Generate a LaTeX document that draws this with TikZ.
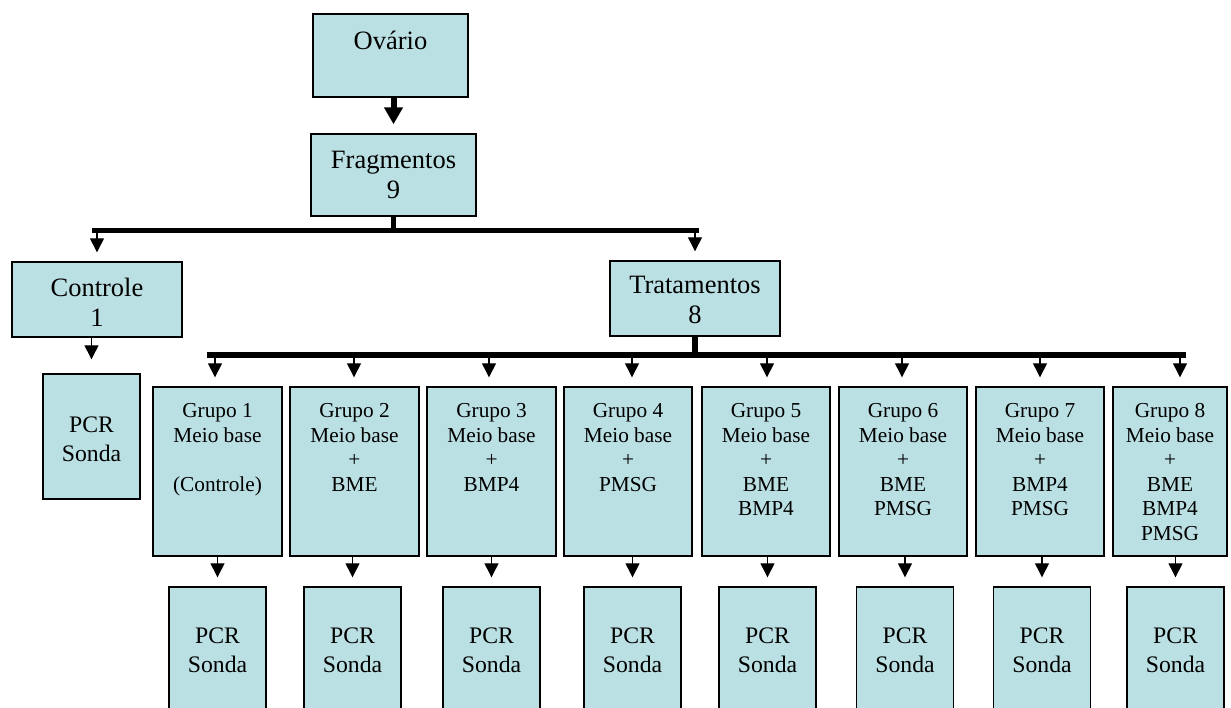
\documentclass[tikz,border=0pt]{standalone}
\usepackage{fontspec}
\setmainfont{Liberation Serif}
\usetikzlibrary{arrows.meta}

\definecolor{azulcaixa}{RGB}{187,224,227}

\tikzset{
  caixa/.style={draw, line width=1.4pt, fill=azulcaixa, inner sep=0pt},
  textogrande/.style={align=center, anchor=north, inner sep=0pt, font=\fontsize{26.5}{30}\selectfont},
  textopcr/.style={align=center, anchor=north, inner sep=0pt, font=\fontsize{23.7}{29}\selectfont},
  textogrupo/.style={align=center, anchor=north, inner sep=0pt, font=\fontsize{21.3}{24.5}\selectfont},
  seta/.style={line width=1.3pt, -{Triangle[length=14pt,width=14pt]}, shorten >=9pt},
  setagrossa/.style={line width=6pt, -{Triangle[length=17pt,width=18pt]}, shorten >=9pt},
  barra/.style={line width=5.5pt}
}

\begin{document}
\begin{tikzpicture}[x=1pt,y=-1pt]
  \clip (0,0) rectangle (1231,707);

  % Topo
  \node[caixa, minimum width=155pt, minimum height=83pt] (ovario) at (390.5,55.5) {};
  \node[textogrande] (tovario) at (390.5,30.7) {Ovário};
  \node[caixa, minimum width=165pt, minimum height=82pt] (fragmentos) at (393.5,175) {};
  \node[textogrande] (tfragmentos) at (393.5,150.7) {Fragmentos\\9};

  % Controle e tratamentos
  \node[caixa, minimum width=170pt, minimum height=75pt] (controle) at (97,299.5) {};
  \node[textogrande] (tcontrole) at (97,277.7) {Controle\\1};
  \node[caixa, minimum width=170pt, minimum height=75pt] (tratamentos) at (695,298.5) {};
  \node[textogrande] (ttratamentos) at (695,275.7) {Tratamentos\\8};
  \node[caixa, minimum width=97pt, minimum height=125pt] (pcr0) at (91.5,436.5) {};
  \node[textopcr] (tpcr0) at (91.5,416.7) {PCR\\Sonda};

  % Grupos
  \node[caixa, minimum width=129pt, minimum height=169pt] (g1) at (217.5,471.5) {};
  \node[textogrupo] (tg1) at (217.5,403.5) {Grupo 1\\Meio base\\\mbox{}\\(Controle)};
  \node[caixa, minimum width=129pt, minimum height=169pt] (g2) at (354.5,471.5) {};
  \node[textogrupo] (tg2) at (354.5,403.5) {Grupo 2\\Meio base\\+\\BME};
  \node[caixa, minimum width=129pt, minimum height=169pt] (g3) at (491.5,471.5) {};
  \node[textogrupo] (tg3) at (491.5,403.5) {Grupo 3\\Meio base\\+\\BMP4};
  \node[caixa, minimum width=128pt, minimum height=169pt] (g4) at (628,471.5) {};
  \node[textogrupo] (tg4) at (628,403.5) {Grupo 4\\Meio base\\+\\PMSG};
  \node[caixa, minimum width=128pt, minimum height=169pt] (g5) at (766,471.5) {};
  \node[textogrupo] (tg5) at (766,403.5) {Grupo 5\\Meio base\\+\\BME\\BMP4};
  \node[caixa, minimum width=128pt, minimum height=169pt] (g6) at (903,471.5) {};
  \node[textogrupo] (tg6) at (903,403.5) {Grupo 6\\Meio base\\+\\BME\\PMSG};
  \node[caixa, minimum width=128pt, minimum height=169pt] (g7) at (1040,471.5) {};
  \node[textogrupo] (tg7) at (1040,403.5) {Grupo 7\\Meio base\\+\\BMP4\\PMSG};
  \node[caixa, minimum width=114pt, minimum height=169pt] (g8) at (1170,471.5) {};
  \node[textogrupo] (tg8) at (1170,403.5) {Grupo 8\\Meio base\\+\\BME\\BMP4\\PMSG};

  % PCR
  \node[caixa, minimum width=97pt, minimum height=140pt] (p1) at (217.5,657) {};
  \node[textopcr] (tp1) at (217.5,627.7) {PCR\\Sonda};
  \node[caixa, minimum width=97pt, minimum height=140pt] (p2) at (352.5,657) {};
  \node[textopcr] (tp2) at (352.5,627.7) {PCR\\Sonda};
  \node[caixa, minimum width=97pt, minimum height=140pt] (p3) at (491.5,657) {};
  \node[textopcr] (tp3) at (491.5,627.7) {PCR\\Sonda};
  \node[caixa, minimum width=97pt, minimum height=140pt] (p4) at (632.5,657) {};
  \node[textopcr] (tp4) at (632.5,627.7) {PCR\\Sonda};
  \node[caixa, minimum width=97pt, minimum height=140pt] (p5) at (767.5,657) {};
  \node[textopcr] (tp5) at (767.5,627.7) {PCR\\Sonda};
  \node[caixa, minimum width=97pt, minimum height=140pt] (p6) at (905,657) {};
  \node[textopcr] (tp6) at (905,627.7) {PCR\\Sonda};
  \node[caixa, minimum width=97pt, minimum height=140pt] (p7) at (1042,657) {};
  \node[textopcr] (tp7) at (1042,627.7) {PCR\\Sonda};
  \node[caixa, minimum width=97pt, minimum height=140pt] (p8) at (1175.5,657) {};
  \node[textopcr] (tp8) at (1175.5,627.7) {PCR\\Sonda};

  % Barras
  \coordinate (b1l) at (92,230.5);
  \coordinate (b1r) at (699,230.5);
  \coordinate (b2l) at (207,355);
  \coordinate (b2r) at (1186,355);
  \draw[setagrossa] (fragmentos.north |- ovario.south) -- (fragmentos.north);
  \draw[barra] (fragmentos.south) -- (fragmentos.south |- b1l);
  \draw[barra] (b1l) -- (b1r);
  \draw[barra] (tratamentos.south) -- (tratamentos.south |- b2l);
  \draw[barra] (b2l) -- (b2r);

  % Setas
  \coordinate (sc) at (97,230.5);
  \coordinate (st) at (695,230.5);
  \draw[seta] (sc) -- (sc |- controle.north);
  \draw[seta] (st) -- (st |- tratamentos.north);
  \draw[seta, shorten >=14pt] (pcr0.north |- controle.south) -- (pcr0.north);

  \coordinate (s1) at (215,355);
  \coordinate (s2) at (354,355);
  \coordinate (s3) at (489,355);
  \coordinate (s4) at (632,355);
  \coordinate (s5) at (767,355);
  \coordinate (s6) at (902,355);
  \coordinate (s7) at (1040,355);
  \coordinate (s8) at (1180,355);
  \draw[seta] (s1) -- (s1 |- g1.north);
  \draw[seta] (s2) -- (s2 |- g2.north);
  \draw[seta] (s3) -- (s3 |- g3.north);
  \draw[seta] (s4) -- (s4 |- g4.north);
  \draw[seta] (s5) -- (s5 |- g5.north);
  \draw[seta] (s6) -- (s6 |- g6.north);
  \draw[seta] (s7) -- (s7 |- g7.north);
  \draw[seta] (s8) -- (s8 |- g8.north);

  \draw[seta] (p1.north |- g1.south) -- (p1.north);
  \draw[seta] (p2.north |- g2.south) -- (p2.north);
  \draw[seta] (p3.north |- g3.south) -- (p3.north);
  \draw[seta] (p4.north |- g4.south) -- (p4.north);
  \draw[seta] (p5.north |- g5.south) -- (p5.north);
  \draw[seta] (p6.north |- g6.south) -- (p6.north);
  \draw[seta] (p7.north |- g7.south) -- (p7.north);
  \draw[seta] (p8.north |- g8.south) -- (p8.north);
\end{tikzpicture}
\end{document}
